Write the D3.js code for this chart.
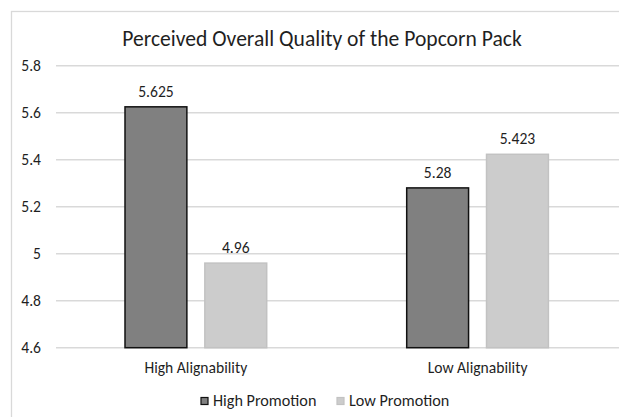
<!DOCTYPE html>
<html>
<head>
<meta charset="utf-8">
<script src="https://cdn.jsdelivr.net/npm/d3@7"></script>
<style>
  html, body { margin: 0; padding: 0; background: #fff; }
  svg { display: block; font-family: Carlito, Lato, "Open Sans", sans-serif; }
</style>
</head>
<body>
<svg id="chart" width="619" height="417"></svg>
<script>
// Perceived overall quality by alignability and promotion level
const categories = ["High Alignability", "Low Alignability"];
const seriesNames = ["High Promotion", "Low Promotion"];
const highPromotion = [5.625, 5.28];
const lowPromotion = [4.96, 5.423];
const yTicks = [4.6, 4.8, 5, 5.2, 5.4, 5.6, 5.8];
const titleText = "Perceived Overall Quality of the Popcorn Pack";

const seriesValues = [highPromotion, lowPromotion];
const rows = categories.map((c, i) => ({
  category: c,
  values: seriesNames.map((s, j) => ({ series: s, value: seriesValues[j][i] }))
}));

const svg = d3.select("#chart");
const textColor = "#1f1f1f";
const labelSize = "15.6px";
const fills = { "High Promotion": "#808080", "Low Promotion": "#cccccc" };
const strokes = { "High Promotion": "#111111", "Low Promotion": "#c2c2c2" };

// chart area frame
svg.append("rect")
  .attr("x", 11.5).attr("y", 11.5)
  .attr("width", 640).attr("height", 440)
  .attr("fill", "#fff")
  .attr("stroke", "#d9d9d9").attr("stroke-width", 1.3);

const y = d3.scaleLinear().domain([4.6, 5.8]).range([347.7, 65.7]);
const x0 = d3.scaleBand().domain(categories).range([55, 618.4]).padding(0);
const x1 = d3.scaleBand().domain(seriesNames)
  .range([70, x0.bandwidth() - 70]).paddingInner(0.225).paddingOuter(0);

// gridlines
svg.append("g")
  .selectAll("line")
  .data(yTicks)
  .join("line")
  .attr("x1", 56).attr("x2", 640)
  .attr("y1", d => y(d)).attr("y2", d => y(d))
  .attr("stroke", "#d9d9d9").attr("stroke-width", 1.4);

// y axis labels
const yAxis = d3.axisLeft(y).tickValues(yTicks).tickSize(0).tickPadding(0)
  .tickFormat(d3.format("~g"));
svg.append("g")
  .attr("transform", "translate(41,0)")
  .call(yAxis)
  .call(g => g.select(".domain").remove())
  .call(g => g.selectAll("text")
    .attr("fill", textColor)
    .style("font-size", labelSize)
    .style("font-family", "Carlito, Lato, sans-serif"));

// bars
const groups = svg.append("g")
  .selectAll("g")
  .data(rows)
  .join("g")
  .attr("transform", d => `translate(${x0(d.category)},0)`);

groups.selectAll("rect")
  .data(d => d.values)
  .join("rect")
  .attr("x", d => x1(d.series))
  .attr("width", x1.bandwidth())
  .attr("y", d => y(d.value))
  .attr("height", d => y(4.6) - y(d.value))
  .attr("fill", d => fills[d.series])
  .attr("stroke", d => strokes[d.series])
  .attr("stroke-width", 1.5);

// value labels
groups.selectAll("text")
  .data(d => d.values)
  .join("text")
  .attr("x", d => x1(d.series) + x1.bandwidth() / 2)
  .attr("y", d => y(d.value) - 10)
  .attr("text-anchor", "middle")
  .attr("fill", textColor)
  .style("font-size", labelSize)
  .text(d => d.value);

// category axis labels
const xAxis = d3.axisBottom(x0).tickSize(0).tickPadding(0);
svg.append("g")
  .attr("transform", "translate(0,362)")
  .call(xAxis)
  .call(g => g.select(".domain").remove())
  .call(g => g.selectAll("text")
    .attr("fill", textColor)
    .style("font-size", labelSize)
    .style("font-family", "Carlito, Lato, sans-serif"));

// title
svg.append("text")
  .attr("x", 322)
  .attr("y", 45.5)
  .attr("text-anchor", "middle")
  .attr("fill", textColor)
  .style("font-size", "21.6px")
  .text(titleText);

// legend
const legendItems = [
  { name: seriesNames[0], sx: 201, tx: 213 },
  { name: seriesNames[1], sx: 337, tx: 349 }
];
const legend = svg.append("g").selectAll("g").data(legendItems).join("g");
legend.append("rect")
  .attr("x", d => d.sx).attr("y", 397.5)
  .attr("width", 7).attr("height", 7)
  .attr("fill", d => fills[d.name])
  .attr("stroke", d => strokes[d.name])
  .attr("stroke-width", 1.2);
legend.append("text")
  .attr("x", d => d.tx).attr("y", 406)
  .attr("fill", textColor)
  .style("font-size", "16.2px")
  .text(d => d.name);
</script>
</body>
</html>
